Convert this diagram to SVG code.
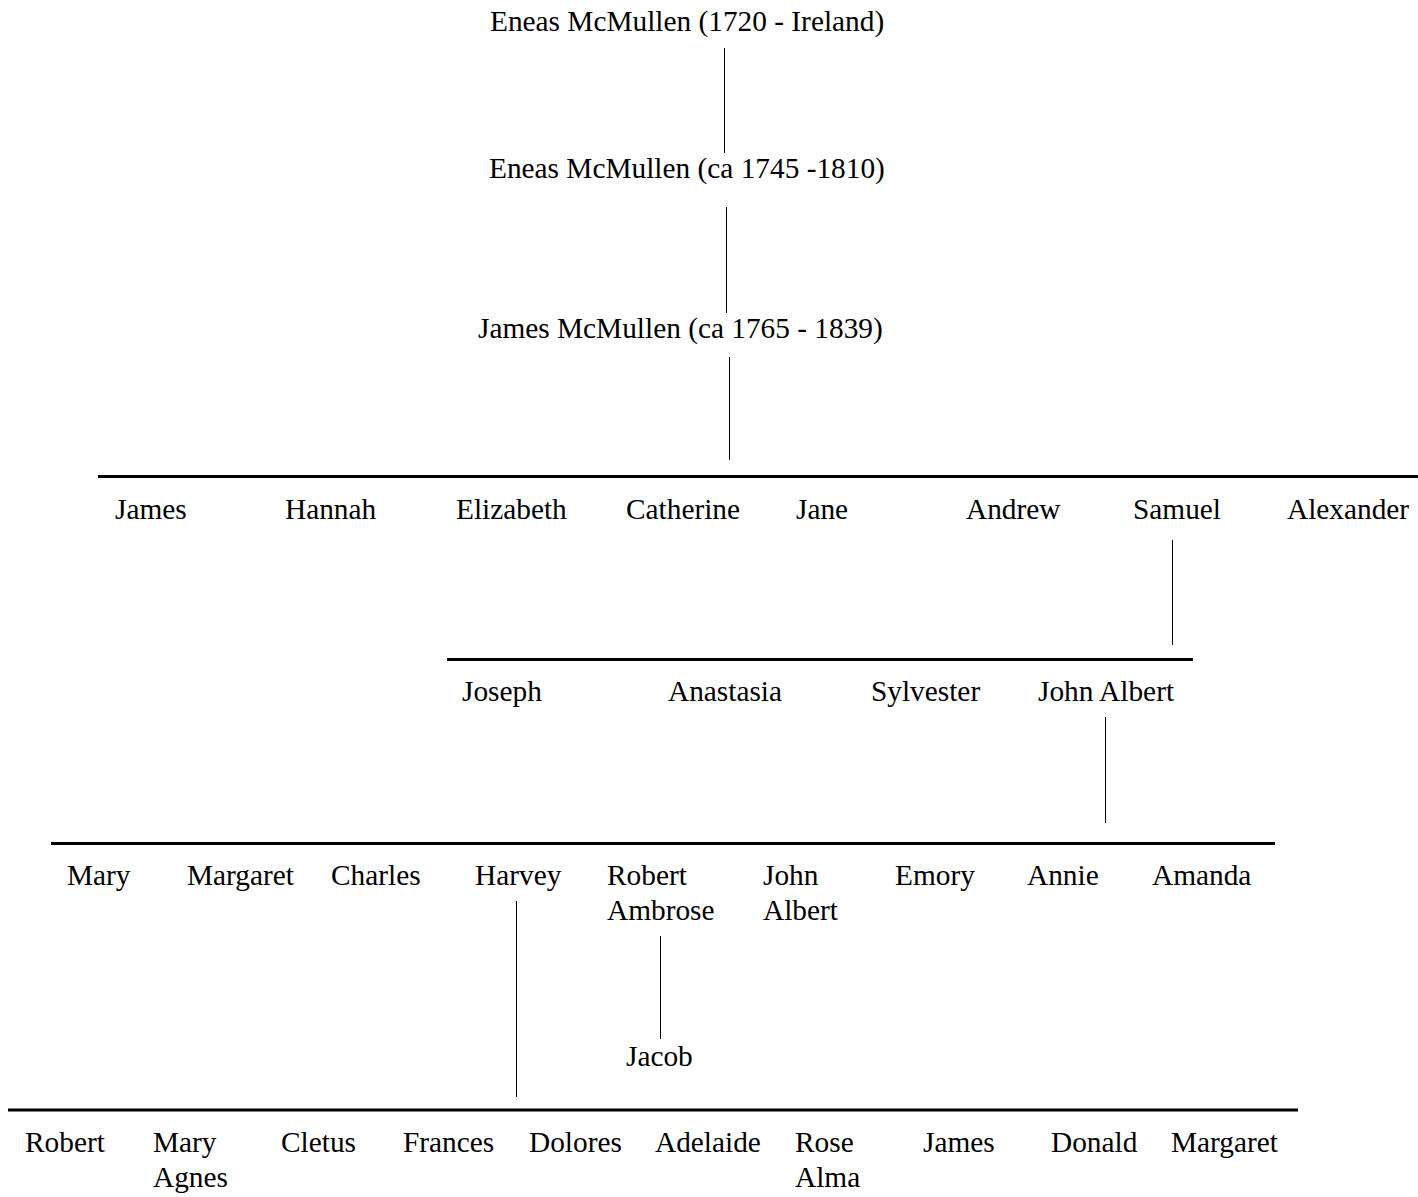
<svg xmlns="http://www.w3.org/2000/svg" width="1418" height="1197" viewBox="0 0 1418 1197">
<style>
text{font-family:"Liberation Serif","Times New Roman",serif;font-size:29.33px;fill:#000}
.bar{stroke:#000;stroke-width:3;fill:none}
.ln{stroke:#000;stroke-width:1;fill:none}
</style>
<rect width="1418" height="1197" fill="#fff"/>
<g id="connectors">
<line class="ln" x1="724.5" y1="48" x2="724.5" y2="153"/>
<line class="ln" x1="726.5" y1="207" x2="726.5" y2="313"/>
<line class="ln" x1="729.5" y1="357" x2="729.5" y2="460"/>
<line class="bar" x1="98" y1="476.5" x2="1418" y2="476.5"/>
<line class="ln" x1="1172.5" y1="540" x2="1172.5" y2="645"/>
<line class="bar" x1="447" y1="659.5" x2="1193" y2="659.5"/>
<line class="ln" x1="1105.5" y1="717" x2="1105.5" y2="823"/>
<line class="bar" x1="51" y1="843.5" x2="1275" y2="843.5"/>
<line class="ln" x1="516.5" y1="901" x2="516.5" y2="1097"/>
<line class="ln" x1="660.5" y1="936" x2="660.5" y2="1039"/>
<line class="bar" x1="8" y1="1110" x2="1298" y2="1110"/>
</g>
<g id="n-eneas1720"><text x="490" y="31">Eneas McMullen (1720 - Ireland)</text></g>
<g id="n-eneas1745"><text x="489" y="178">Eneas McMullen (ca 1745 -1810)</text></g>
<g id="n-james1765"><text x="478" y="338">James McMullen (ca 1765 - 1839)</text></g>
<g id="n-james"><text x="115" y="519">James</text></g>
<g id="n-hannah"><text x="285" y="519">Hannah</text></g>
<g id="n-elizabeth"><text x="456" y="519">Elizabeth</text></g>
<g id="n-catherine"><text x="626" y="519">Catherine</text></g>
<g id="n-jane"><text x="796" y="519">Jane</text></g>
<g id="n-andrew"><text x="966" y="519">Andrew</text></g>
<g id="n-samuel"><text x="1133" y="519">Samuel</text></g>
<g id="n-alexander"><text x="1287" y="519">Alexander</text></g>
<g id="n-joseph"><text x="462" y="701">Joseph</text></g>
<g id="n-anastasia"><text x="668" y="701">Anastasia</text></g>
<g id="n-sylvester"><text x="871" y="701">Sylvester</text></g>
<g id="n-johnalbert1"><text x="1038" y="701">John Albert</text></g>
<g id="n-mary"><text x="67" y="885">Mary</text></g>
<g id="n-margaret1"><text x="187" y="885">Margaret</text></g>
<g id="n-charles"><text x="331" y="885">Charles</text></g>
<g id="n-harvey"><text x="475" y="885">Harvey</text></g>
<g id="n-robertambrose"><text x="607" y="885">Robert</text><text x="607" y="920">Ambrose</text></g>
<g id="n-johnalbert2"><text x="763" y="885">John</text><text x="763" y="920">Albert</text></g>
<g id="n-emory"><text x="895" y="885">Emory</text></g>
<g id="n-annie"><text x="1027" y="885">Annie</text></g>
<g id="n-amanda"><text x="1152" y="885">Amanda</text></g>
<g id="n-jacob"><text x="626" y="1066">Jacob</text></g>
<g id="n-robert"><text x="25" y="1152">Robert</text></g>
<g id="n-maryagnes"><text x="153" y="1152">Mary</text><text x="153" y="1187">Agnes</text></g>
<g id="n-cletus"><text x="281" y="1152">Cletus</text></g>
<g id="n-frances"><text x="403" y="1152">Frances</text></g>
<g id="n-dolores"><text x="529" y="1152">Dolores</text></g>
<g id="n-adelaide"><text x="655" y="1152">Adelaide</text></g>
<g id="n-rosealma"><text x="795" y="1152">Rose</text><text x="795" y="1187">Alma</text></g>
<g id="n-james2"><text x="923" y="1152">James</text></g>
<g id="n-donald"><text x="1051" y="1152">Donald</text></g>
<g id="n-margaret2"><text x="1171" y="1152">Margaret</text></g>
</svg>
